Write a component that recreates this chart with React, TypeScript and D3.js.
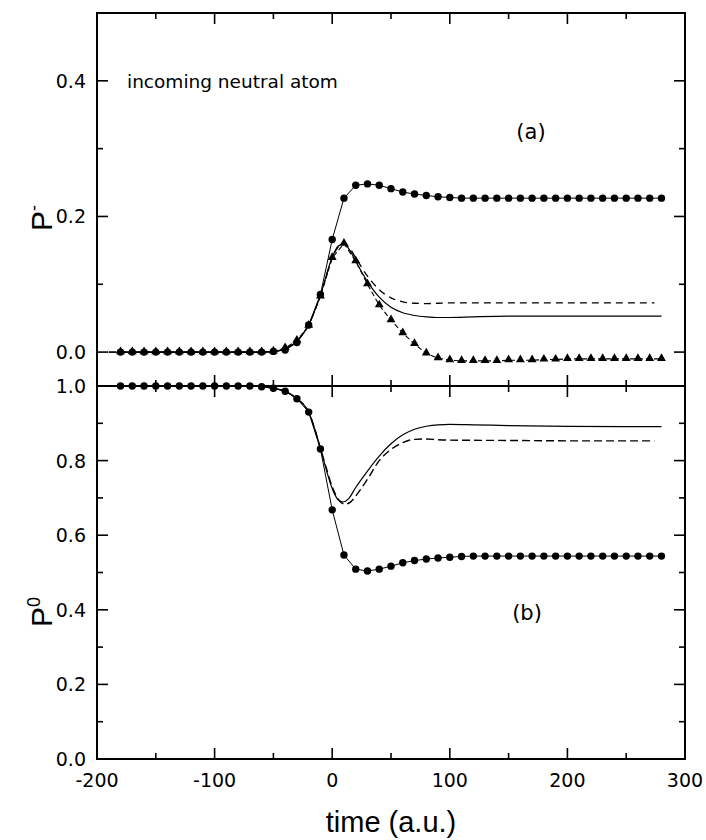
import React from 'react';
import * as d3 from 'd3';

// ---------- data ----------
const markerTimes = [
  -180, -170, -160, -150, -140, -130, -120, -110, -100, -90, -80, -70, -60, -50,
  -40, -30, -20, -10, 0, 10, 20, 30, 40, 50, 60, 70, 80, 90, 100, 110, 120,
  130, 140, 150, 160, 170, 180, 190, 200, 210, 220, 230, 240, 250, 260, 270, 280,
];
const topCircles = [
  0, 0, 0, 0, 0, 0, 0, 0, 0, 0, 0, 0, 0, 0.001,
  0.003, 0.014, 0.040, 0.085, 0.166, 0.227, 0.246, 0.248, 0.246, 0.241, 0.236, 0.233, 0.231, 0.229, 0.228, 0.227, 0.227,
  0.227, 0.227, 0.227, 0.227, 0.227, 0.227, 0.227, 0.227, 0.227, 0.227, 0.227, 0.227, 0.227, 0.227, 0.227, 0.227,
];
const topTriangles = [
  0, 0, 0, 0, 0, 0, 0, 0, 0, 0, 0, 0, 0, 0.001,
  0.006, 0.017, 0.039, 0.082, 0.139, 0.160, 0.134, 0.100, 0.069, 0.047, 0.028, 0.012, -0.002, -0.009, -0.012, -0.013, -0.013,
  -0.013, -0.013, -0.012, -0.012, -0.012, -0.011, -0.011, -0.010, -0.010, -0.010, -0.010, -0.010, -0.010, -0.010, -0.010, -0.010,
];
const bottomCircles = [
  1, 1, 1, 1, 1, 1, 1, 1, 1, 1, 1, 1, 0.998, 0.994,
  0.986, 0.966, 0.93, 0.831, 0.668, 0.547, 0.509, 0.504, 0.509, 0.517, 0.526, 0.532, 0.536, 0.539, 0.541, 0.543, 0.544,
  0.544, 0.544, 0.544, 0.544, 0.544, 0.544, 0.544, 0.544, 0.544, 0.544, 0.544, 0.544, 0.544, 0.544, 0.544, 0.544,
];

const topSolidT = [-190, -150, -100, -60, -50, -40, -30, -20, -10, 0, 5, 10, 15, 20, 30, 40, 50, 60, 70, 80, 90, 100, 120, 150, 200, 250, 280];
const topSolidV = [0, 0, 0, 0, 0.001, 0.005, 0.016, 0.040, 0.084, 0.140, 0.156, 0.160, 0.150, 0.134, 0.104, 0.081, 0.066, 0.058, 0.054, 0.052, 0.051, 0.051, 0.052, 0.053, 0.053, 0.053, 0.053];

const topDashT = [-190, -150, -100, -60, -50, -40, -30, -20, -10, 0, 5, 10, 15, 20, 30, 40, 50, 60, 70, 80, 90, 100, 150, 200, 274];
const topDashV = [0, 0, 0, 0, 0.001, 0.005, 0.016, 0.040, 0.084, 0.138, 0.155, 0.160, 0.153, 0.139, 0.112, 0.092, 0.080, 0.074, 0.072, 0.0715, 0.072, 0.0725, 0.0725, 0.0725, 0.0725];

const botSolidT = [-190, -150, -100, -80, -70, -60, -50, -40, -30, -20, -10, -5, 0, 5, 9, 14, 20, 30, 40, 50, 60, 70, 80, 90, 100, 120, 150, 200, 250, 280];
const botSolidV = [1, 1, 1, 1, 1, 0.998, 0.994, 0.986, 0.966, 0.93, 0.833, 0.775, 0.725, 0.695, 0.689, 0.698, 0.728, 0.772, 0.812, 0.845, 0.869, 0.884, 0.892, 0.896, 0.897, 0.896, 0.894, 0.892, 0.891, 0.891];

const botDashT = [-190, -150, -100, -80, -70, -60, -50, -40, -30, -20, -10, -5, 0, 5, 11, 16, 20, 30, 40, 50, 60, 70, 80, 90, 100, 150, 200, 274];
const botDashV = [1, 1, 1, 1, 1, 0.998, 0.994, 0.986, 0.966, 0.93, 0.833, 0.78, 0.73, 0.697, 0.683, 0.69, 0.705, 0.75, 0.80, 0.83, 0.848, 0.857, 0.858, 0.856, 0.855, 0.854, 0.853, 0.853];

const xMajor = [-200, -100, 0, 100, 200, 300];
const xMinor = [-150, -50, 50, 150, 250];
const topYMajor = [0, 0.2, 0.4];
const topYMinor = [0.1, 0.3];
const botYMajor = [0, 0.2, 0.4, 0.6, 0.8, 1.0];
const botYMinor = [0.1, 0.3, 0.5, 0.7, 0.9];

// ---------- layout ----------
const W = 706;
const H = 840;
const L = 97;
const R = 685;
const TOP = 13;
const MID = 386;
const BOT = 759;

const x = d3.scaleLinear().domain([-200, 300]).range([L, R]);
const yTop = d3.scaleLinear().domain([-0.05, 0.5]).range([MID, TOP]);
const yBot = d3.scaleLinear().domain([0, 1]).range([BOT, MID]);

const fmt = d3.format('.1f');
const MAJ = 11;
const MIN = 6;

function pts(ts: number[], vs: number[]): [number, number][] {
  return ts.map((t, i) => [t, vs[i]]);
}

function Panel({ y, yMajor, yMinor, top, bottom, showTopTicks }: any) {
  const tickStyle = { stroke: '#000', strokeWidth: 1.6 };
  return (
    <g>
      {/* left & right y ticks */}
      {yMajor.map((v: number) => (
        <g key={'ym' + v}>
          <line x1={L} x2={L + MAJ} y1={y(v)} y2={y(v)} {...tickStyle} />
          <line x1={R} x2={R - MAJ} y1={y(v)} y2={y(v)} {...tickStyle} />
        </g>
      ))}
      {yMinor.map((v: number) => (
        <g key={'yn' + v}>
          <line x1={L} x2={L + MIN} y1={y(v)} y2={y(v)} {...tickStyle} />
          <line x1={R} x2={R - MIN} y1={y(v)} y2={y(v)} {...tickStyle} />
        </g>
      ))}
      {/* x ticks at top and bottom of this panel (inward) */}
      {xMajor.map((t) => (
        <g key={'xm' + t}>
          {showTopTicks && <line x1={x(t)} x2={x(t)} y1={top} y2={top + MAJ} {...tickStyle} />}
          <line x1={x(t)} x2={x(t)} y1={bottom} y2={bottom - MAJ} {...tickStyle} />
        </g>
      ))}
      {xMinor.map((t) => (
        <g key={'xn' + t}>
          {showTopTicks && <line x1={x(t)} x2={x(t)} y1={top} y2={top + MIN} {...tickStyle} />}
          <line x1={x(t)} x2={x(t)} y1={bottom} y2={bottom - MIN} {...tickStyle} />
        </g>
      ))}
      {/* tick labels */}
      {yMajor.map((v: number) => (
        <text
          key={'yl' + v}
          x={86}
          y={y(v) + 7}
          textAnchor="end"
          fontFamily="DejaVu Sans, sans-serif"
          fontSize={19}
        >
          {fmt(v)}
        </text>
      ))}
      <rect x={L} y={top} width={R - L} height={bottom - top} fill="none" stroke="#000" strokeWidth={2} />
    </g>
  );
}

export default function App() {
  const lineLin = d3.line<[number, number]>().x((d) => x(d[0]));
  const smooth = d3.curveMonotoneX;

  const topLine = (data: [number, number][], curve: any) =>
    d3.line<[number, number]>().x((d) => x(d[0])).y((d) => yTop(d[1])).curve(curve)(data) || '';
  const botLine = (data: [number, number][], curve: any) =>
    d3.line<[number, number]>().x((d) => x(d[0])).y((d) => yBot(d[1])).curve(curve)(data) || '';

  const topC = pts(markerTimes, topCircles);
  const topT = pts(markerTimes, topTriangles);
  const botC = pts(markerTimes, bottomCircles);
  const tri = d3.symbol().type(d3.symbolTriangle).size(34)() || '';
  void lineLin;

  return (
    <svg
      width={W}
      height={H}
      viewBox={`0 0 ${W} ${H}`}
      style={{ position: 'absolute', left: 0, top: 0, background: '#fff' }}
    >
      <rect x={0} y={0} width={W} height={H} fill="#fff" />

      {/* ---------- top panel curves ---------- */}
      <path d={topLine(pts(topSolidT, topSolidV), smooth)} fill="none" stroke="#000" strokeWidth={1.2} />
      <path d={topLine(pts(topDashT, topDashV), smooth)} fill="none" stroke="#000" strokeWidth={1.3} strokeDasharray="7,5" />
      <path d={topLine(topT, d3.curveLinear)} fill="none" stroke="#000" strokeWidth={1.1} strokeDasharray="5,3" />
      <path d={topLine(topC, d3.curveLinear)} fill="none" stroke="#000" strokeWidth={1} />
      {topT.map((d, i) => (
        <path key={'tt' + i} d={tri} transform={`translate(${x(d[0])},${yTop(d[1]) - 0.5})`} fill="#000" />
      ))}
      {topC.map((d, i) => (
        <circle key={'tc' + i} cx={x(d[0])} cy={yTop(d[1])} r={3.7} fill="#000" />
      ))}

      {/* ---------- bottom panel curves ---------- */}
      <path d={botLine(pts(botSolidT, botSolidV), smooth)} fill="none" stroke="#000" strokeWidth={1.2} />
      <path d={botLine(pts(botDashT, botDashV), smooth)} fill="none" stroke="#000" strokeWidth={1.4} strokeDasharray="8,4" />
      <path d={botLine(botC, d3.curveLinear)} fill="none" stroke="#000" strokeWidth={1} />
      {botC.map((d, i) => (
        <circle key={'bc' + i} cx={x(d[0])} cy={yBot(d[1])} r={3.7} fill="#000" />
      ))}

      {/* ---------- frames / ticks ---------- */}
      <Panel y={yTop} yMajor={topYMajor} yMinor={topYMinor} top={TOP} bottom={MID} showTopTicks={true} />
      <Panel y={yBot} yMajor={botYMajor} yMinor={botYMinor} top={MID} bottom={BOT} showTopTicks={true} />

      {/* x tick labels */}
      {xMajor.map((t) => (
        <text
          key={'xl' + t}
          x={x(t)}
          y={787}
          textAnchor="middle"
          fontFamily="DejaVu Sans, sans-serif"
          fontSize={19}
        >
          {t}
        </text>
      ))}

      {/* axis titles */}
      <text x={(L + R) / 2} y={832} textAnchor="middle" fontFamily="Liberation Sans, Arial, sans-serif" fontSize={29}>
        time (a.u.)
      </text>
      <text transform="translate(52,231) rotate(-90)" fontFamily="Liberation Sans, Arial, sans-serif" fontSize={30}>
        P
        <tspan fontSize={18} dy={-12}>-</tspan>
      </text>
      <text transform="translate(52,627) rotate(-90)" fontFamily="Liberation Sans, Arial, sans-serif" fontSize={30}>
        P
        <tspan fontSize={18} dy={-12}>0</tspan>
      </text>

      {/* annotations */}
      <text x={127} y={88} fontFamily="DejaVu Sans, sans-serif" fontSize={18.5}>
        incoming neutral atom
      </text>
      <text x={531} y={139} textAnchor="middle" fontFamily="DejaVu Sans, sans-serif" fontSize={21}>
        (a)
      </text>
      <text x={527} y={620} textAnchor="middle" fontFamily="DejaVu Sans, sans-serif" fontSize={21}>
        (b)
      </text>
    </svg>
  );
}
